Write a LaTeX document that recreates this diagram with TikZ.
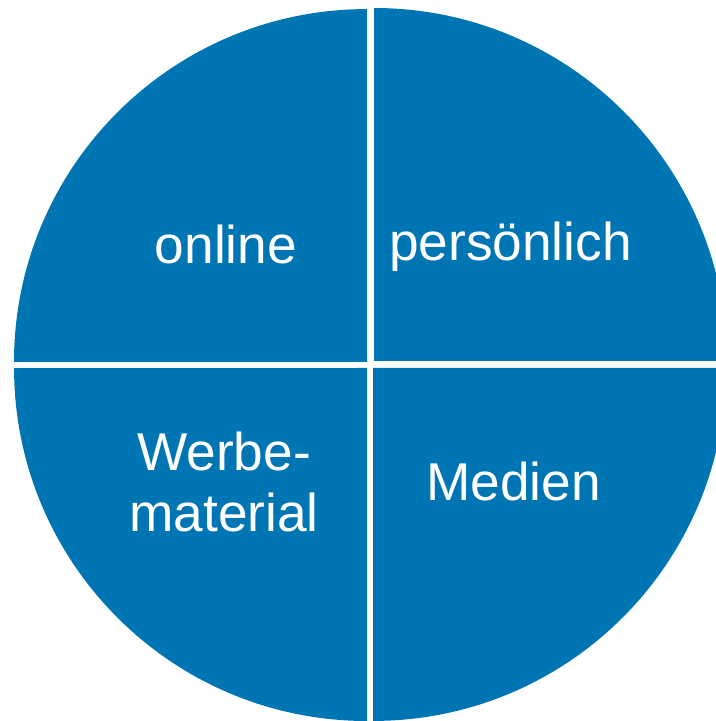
\documentclass[tikz,border=0pt]{standalone}
\usepackage{fontspec}
\setmainfont{Liberation Sans}
\usepackage{tikz}
\definecolor{pieblue}{RGB}{0,117,180}
\tikzstyle{slice} = [fill=pieblue, draw=none]
\tikzstyle{quadtext} = [text=white, inner sep=0pt, anchor=base, align=center,
    font=\fontsize{30.3}{35.2}\selectfont]

\begin{document}
\begin{tikzpicture}[x=0.02cm, y=0.02cm]
		\useasboundingbox (0,0) rectangle (716,721);
		\clip (0,0) rectangle (716,721);
		% four quadrants, slightly pulled apart
		\fill[slice] (367,359) -- ++(180:353) arc[start angle=180, end angle=90, radius=7.06cm] -- cycle;
		\fill[slice] (374,360) -- ++(90:353) arc[start angle=90, end angle=0, radius=7.06cm] -- cycle;
		\fill[slice] (367,353) -- ++(270:353) arc[start angle=270, end angle=180, radius=7.06cm] -- cycle;
		\fill[slice] (373,353) -- ++(0:353) arc[start angle=0, end angle=-90, radius=7.06cm] -- cycle;
		
		\node[quadtext] (online) at (226,457) {online};
		\node[quadtext] (personal) at (510.5,460) {persönlich};
		\node[quadtext] (promo) at (224,189) {Werbe-\\material};
		\node[quadtext] (media) at (513.5,220) {Medien};
	\end{tikzpicture}
\end{document}
